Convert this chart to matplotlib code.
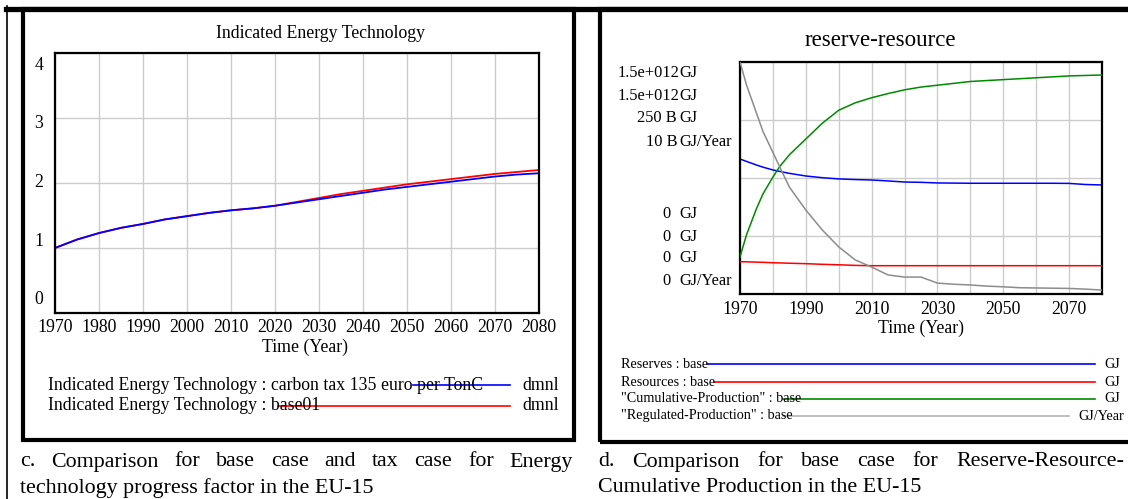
import matplotlib
matplotlib.use("Agg")
import matplotlib.pyplot as plt
from matplotlib.lines import Line2D
from matplotlib.patches import Rectangle

plt.rcParams['font.family'] = ['Liberation Serif', 'DejaVu Serif']

# ---- panel c data: Indicated Energy Technology (dmnl)
years_c = [1970, 1975, 1980, 1985, 1990, 1995, 2000, 2005, 2010, 2015, 2020, 2025,
           2030, 2035, 2040, 2045, 2050, 2055, 2060, 2065, 2070, 2075, 2080]
tech_tax = [1.00, 1.13, 1.23, 1.31, 1.37, 1.44, 1.49, 1.54, 1.58, 1.61, 1.65, 1.70,
            1.75, 1.80, 1.85, 1.90, 1.94, 1.98, 2.02, 2.06, 2.10, 2.13, 2.15]
tech_base = [1.00, 1.13, 1.23, 1.31, 1.37, 1.44, 1.49, 1.54, 1.58, 1.61, 1.65, 1.71,
             1.77, 1.83, 1.88, 1.93, 1.98, 2.02, 2.06, 2.10, 2.14, 2.17, 2.20]
c_legend = ["Indicated Energy Technology : carbon tax 135 euro per TonC",
            "Indicated Energy Technology : base01"]

# ---- panel d data: reserve-resource (base)
years_d = [1970, 1972, 1975, 1977, 1980, 1982, 1985, 1990, 1995, 2000, 2005, 2010, 2015,
           2020, 2025, 2030, 2035, 2040, 2045, 2050, 2055, 2060, 2065, 2070, 2075, 2080]
reserves = [0.873e12, 0.857e12, 0.834e12, 0.820e12, 0.802e12, 0.793e12, 0.780e12, 0.763e12,
            0.752e12, 0.744e12, 0.740e12, 0.737e12, 0.731e12, 0.724e12, 0.722e12, 0.718e12,
            0.717e12, 0.716e12, 0.716e12, 0.716e12, 0.716e12, 0.716e12, 0.716e12, 0.715e12,
            0.708e12, 0.705e12]
resources = [0.209e12, 0.208e12, 0.206e12, 0.205e12, 0.202e12, 0.201e12, 0.199e12, 0.196e12,
             0.192e12, 0.189e12, 0.185e12, 0.183e12, 0.183e12, 0.183e12, 0.183e12, 0.183e12,
             0.183e12, 0.183e12, 0.183e12, 0.183e12, 0.183e12, 0.183e12, 0.183e12, 0.183e12,
             0.183e12, 0.183e12]
cumulative = [40e9, 64e9, 92e9, 108e9, 126e9, 137e9, 150e9, 167e9, 184e9, 198e9, 206e9,
              211.5e9, 216e9, 220e9, 223e9, 225e9, 227e9, 229e9, 230e9, 231e9, 232e9, 233e9,
              234e9, 235e9, 235.5e9, 236e9]
regulated = [10.0e9, 9.0e9, 7.8e9, 7.0e9, 6.1e9, 5.5e9, 4.61e9, 3.62e9, 2.76e9, 2.03e9,
             1.47e9, 1.16e9, 0.82e9, 0.73e9, 0.73e9, 0.47e9, 0.42e9, 0.39e9, 0.34e9, 0.31e9,
             0.27e9, 0.26e9, 0.25e9, 0.24e9, 0.21e9, 0.17e9]
d_tops = [1.5e12, 1.5e12, 250e9, 10e9]
d_top_nums = ["1.5e+012", "1.5e+012", "250 B", "10 B"]
d_units = ["GJ", "GJ", "GJ", "GJ/Year"]
d_names = ["Reserves : base", "Resources : base", '"Cumulative-Production" : base',
           '"Regulated-Production" : base']
d_colors = ['#0000ff', '#ff0000', '#008a00', '#8c8c8c']

W, H = 1128, 499
fig = plt.figure(figsize=(W / 100, H / 100), dpi=100)


def fx(x):
    return x / W


def fy(y):
    return 1 - y / H


def hline(x0, x1, y, color, lw=1.2):
    fig.add_artist(Line2D([fx(x0), fx(x1)], [fy(y), fy(y)], transform=fig.transFigure,
                          color=color, lw=lw))


def justify(words, x0, x1, y, size):
    r = fig.canvas.get_renderer()
    ts = [fig.text(0, fy(y), w, fontsize=size, va='center') for w in words]
    widths = [t.get_window_extent(r).width for t in ts]
    gap = (x1 - x0 - sum(widths)) / (len(words) - 1)
    x = x0
    for t, w in zip(ts, widths):
        t.set_x(fx(x))
        x += w + gap


# frames
fig.add_artist(Line2D([fx(6), fx(1128)], [fy(8.5), fy(8.5)], transform=fig.transFigure,
                      color='black', lw=3.8))
fig.add_artist(Line2D([fx(7), fx(7)], [fy(6), fy(499)], transform=fig.transFigure,
                      color='black', lw=1.2))
fig.add_artist(Rectangle((fx(23), fy(440)), fx(573.5) - fx(23), (440 - 8.5) / H,
                         transform=fig.transFigure, fill=False, ec='black', lw=3))
fig.add_artist(Rectangle((fx(600), fy(442)), fx(1140) - fx(600), (442 - 8.5) / H,
                         transform=fig.transFigure, fill=False, ec='black', lw=3))

# ---------------- panel c
ax1 = fig.add_axes([fx(55), fy(313), (539 - 55) / W, (313 - 53) / H])
ax1.plot(years_c, tech_base, color='#ff0000', lw=1.3)
ax1.plot(years_c, tech_tax, color='#0000ff', lw=1.3)
ax1.set_xlim(1970, 2080)
ax1.set_ylim(0, 4)
ax1.set_xticks(range(1970, 2081, 10))
ax1.set_yticks(range(0, 5))
ax1.set_yticklabels([])
ax1.grid(True, color='#cccccc', lw=1)
ax1.tick_params(length=0, labelsize=12.8, pad=4)
for s in ax1.spines.values():
    s.set_linewidth(1.6)
for v in range(0, 5):
    fig.text(fx(39), fy(65 + (300 - 65) * (4 - v) / 4), str(v), fontsize=12.8,
             ha='center', va='center')
fig.text(fx(320), fy(33), "Indicated Energy Technology", fontsize=12.8, ha='center', va='center')
fig.text(fx(305), fy(347), "Time (Year)", fontsize=12.8, ha='center', va='center')

fig.text(fx(48), fy(385), c_legend[0], fontsize=12.8, va='center')
fig.text(fx(48), fy(406), c_legend[1], fontsize=12.8, va='center')
hline(413, 510, 385, '#0000ff')
hline(278, 510, 406, '#ff0000')
fig.text(fx(522), fy(385), "dmnl", fontsize=12.8, va='center')
fig.text(fx(522), fy(406), "dmnl", fontsize=12.8, va='center')

justify("c. Comparison for base case and tax case for Energy".split(), 20, 573, 462, 15.8)
fig.text(fx(20), fy(488), "technology progress factor in the EU-15", fontsize=15.8, va='center')

# ---------------- panel d
axr = fig.add_axes([fx(740), fy(294), (1102 - 740) / W, (294 - 62) / H])
axr.set_xlim(1970, 2080)
axr.set_xticks(range(1970, 2080, 20))
axr.set_xticks(range(1980, 2080, 10), minor=True)
axr.grid(True, which='both', color='#cccccc', lw=1)
axr.set_ylim(0, d_tops[0])
axr.set_yticks([d_tops[0] * k / 4 for k in range(5)])
axr.set_yticklabels([])
axr.tick_params(which='both', length=0, labelsize=12.8, pad=5)
for s in axr.spines.values():
    s.set_linewidth(1.6)

series = [reserves, resources, cumulative, regulated]
for i, (vals, top, col) in enumerate(zip(series, d_tops, d_colors)):
    a = axr if i == 0 else axr.twinx()
    a.set_ylim(0, top)
    if i > 0:
        a.axis('off')
    a.plot(years_d, vals, color=col, lw=1.1)

top_y = [73, 96, 118, 142]
bot_y = [214, 237, 258, 281]
num_end = [679, 679, 677, 677]
for i in range(4):
    fig.text(fx(num_end[i]), fy(top_y[i]), d_top_nums[i], fontsize=11.8, ha='right', va='center')
    fig.text(fx(679), fy(top_y[i]), d_units[i], fontsize=11.8, ha='left', va='center')
    fig.text(fx(671), fy(bot_y[i]), "0", fontsize=11.8, ha='right', va='center')
    fig.text(fx(679), fy(bot_y[i]), d_units[i], fontsize=11.8, ha='left', va='center')

fig.text(fx(880), fy(40), "reserve-resource", fontsize=16.5, ha='center', va='center')
fig.text(fx(921), fy(328), "Time (Year)", fontsize=12.8, ha='center', va='center')

leg_y = [364, 382, 399, 416]
line_start = [707, 714, 783, 783]
line_end = [1095, 1095, 1095, 1069]
unit_x = [1104, 1104, 1104, 1078]
leg_colors = ['#0000ff', '#ff0000', '#008a00', '#b4b4b4']
for i in range(4):
    fig.text(fx(621), fy(leg_y[i]), d_names[i], fontsize=10.2, va='center')
    hline(line_start[i], line_end[i], leg_y[i], leg_colors[i])
    fig.text(fx(unit_x[i]), fy(leg_y[i]), d_units[i], fontsize=10.2, va='center')

justify("d. Comparison for base case for Reserve-Resource-".split(), 598, 1124, 462, 15.8)
fig.text(fx(598), fy(488), "Cumulative Production in the EU-15", fontsize=15.8, va='center')

fig.savefig("out.png", dpi=100)
